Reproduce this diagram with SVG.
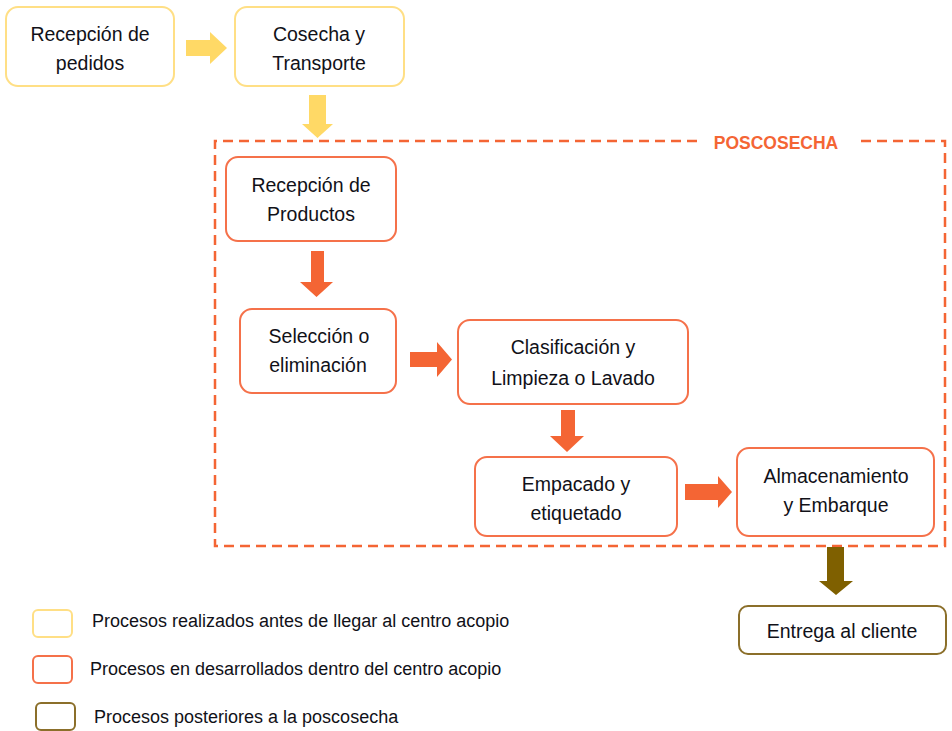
<svg xmlns="http://www.w3.org/2000/svg" width="952" height="731" viewBox="0 0 952 731">
<style>
text{font-family:"Liberation Sans",Arial,sans-serif;fill:#111118;text-anchor:middle}
.n{font-size:19.5px}
.lg{font-size:18px;text-anchor:start}
.y{fill:#fff;stroke:#FFDF85;stroke-width:2}
.o{fill:#fff;stroke:#F5714A;stroke-width:2}
.b{fill:#fff;stroke:#8B6F2A;stroke-width:2}
.ay{fill:#FFD966}
.ao{fill:#F46534}
.ab{fill:#7F6000}
</style>
<rect width="952" height="731" fill="#fff"/>
<g id="poscosecha">
<path d="M697 141 H215 V546 H945 V141 H860" fill="none" stroke="#F46534" stroke-width="2.5" stroke-dasharray="10 6"/>
<text x="776" y="149" style="font-size:17.5px;font-weight:bold;fill:#F46534">POSCOSECHA</text>
</g>
<g id="connectors">
<path class="ay" d="M186 40 H210 V32 L227 48 L210 64 V56 H186 Z"/>
<path class="ay" d="M309 95 H326 V124 H333 L317.5 138 L302 124 H309 Z"/>
<path class="ao" d="M311 251 H324 V282 H333 L316.5 297 L300 282 H311 Z"/>
<path class="ao" d="M410 352 H437 V342 L452 359.5 L437 377 V367 H410 Z"/>
<path class="ao" d="M561 410 H575 V436 H584 L567 452 L550 436 H561 Z"/>
<path class="ao" d="M685 484 H718 V476 L732 492 L718 508 V500 H685 Z"/>
<path class="ab" d="M827 547 H844 V581 H853 L836 595 L819 581 H827 Z"/>
</g>
<g id="n1"><rect class="y" x="6" y="7" width="168" height="79" rx="12"/><text class="n" x="90" y="41">Recepción de</text><text class="n" x="90" y="70">pedidos</text></g>
<g id="n2"><rect class="y" x="235" y="7" width="169" height="79" rx="12"/><text class="n" x="319" y="41">Cosecha y</text><text class="n" x="319" y="70">Transporte</text></g>
<g id="n3"><rect class="o" x="226" y="157" width="170" height="84" rx="12"/><text class="n" x="311" y="192">Recepción de</text><text class="n" x="311" y="221">Productos</text></g>
<g id="n4"><rect class="o" x="240" y="309" width="156" height="84" rx="12"/><text class="n" x="319" y="343">Selección o</text><text class="n" x="318" y="372">eliminación</text></g>
<g id="n5"><rect class="o" x="458" y="320" width="230" height="84" rx="12"/><text class="n" x="573" y="354">Clasificación y</text><text class="n" x="573" y="385">Limpieza o Lavado</text></g>
<g id="n6"><rect class="o" x="475" y="457" width="202" height="79" rx="12"/><text class="n" x="576" y="491">Empacado y</text><text class="n" x="576" y="520">etiquetado</text></g>
<g id="n7"><rect class="o" x="737" y="448" width="197" height="88" rx="12"/><text class="n" x="836" y="483">Almacenamiento</text><text class="n" x="836" y="512">y Embarque</text></g>
<g id="n8"><rect class="b" x="739" y="606" width="207" height="48" rx="9"/><text class="n" x="842" y="638">Entrega al cliente</text></g>
<g id="legend">
<rect class="y" x="33" y="610" width="39" height="27" rx="5"/>
<text class="lg" x="92" y="627">Procesos realizados antes de llegar al centro acopio</text>
<rect class="o" x="33" y="656" width="39" height="27" rx="5"/>
<text class="lg" x="90" y="675">Procesos en desarrollados dentro del centro acopio</text>
<rect class="b" x="36" y="703" width="39" height="27" rx="5"/>
<text class="lg" x="94" y="723">Procesos posteriores a la poscosecha</text>
</g>
</svg>
